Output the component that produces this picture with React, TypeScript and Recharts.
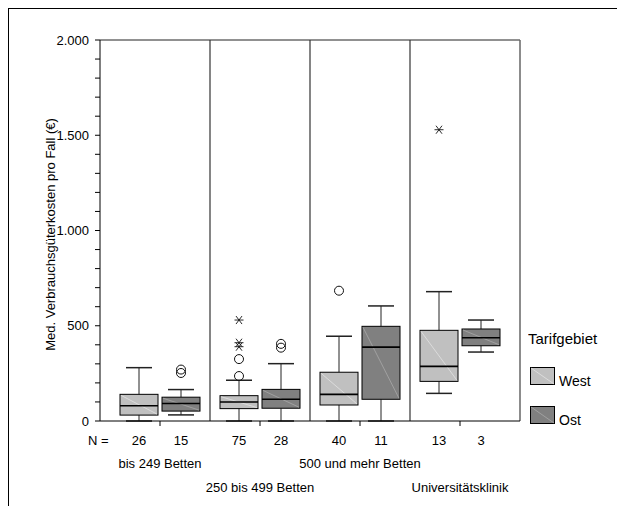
import { Bar, ComposedChart, Legend, ReferenceLine, XAxis, YAxis } from "recharts"

const groups = ["bis 249 Betten", "250 bis 499 Betten", "500 und mehr Betten", "Universitätsklinik"]
const legendOrder = ["West", "Ost"]
const westN = [26, 75, 40, 13]
const ostN = [15, 28, 11, 3]

// box plot stats
const westLow = [0, 0, 0, 145]
const westQ1 = [31, 65, 84, 208]
const westMedian = [80, 100, 140, 287]
const westQ3 = [140, 133, 256, 476]
const westHigh = [280, 214, 445, 679]
const westCircles = [[], [236, 325], [684], []]
const westStars = [[], [390, 411, 530], [], [1529]]

const ostLow = [32, 0, 0, 362]
const ostQ1 = [52, 67, 114, 395]
const ostMedian = [92, 114, 388, 437]
const ostQ3 = [125, 166, 497, 483]
const ostHigh = [165, 301, 604, 530]
const ostCircles = [[252, 270], [385, 405], [], []]
const ostStars = [[], [], [], []]

const yTicks = [0, 100, 200, 300, 400, 500, 600, 700, 800, 900, 1000, 1100, 1200, 1300, 1400, 1500, 1600, 1700, 1800, 1900, 2000]
const groupTicks = [0, 1, 2, 3]
const separators = [0.5, 1.5, 2.5]

const FONT = "'Liberation Sans', Arial, sans-serif"
const WEST = "#c0c0c0"
const OST = "#808080"

type Stats = {
  low: number
  q1: number
  median: number
  q3: number
  high: number
  circles: number[]
  stars: number[]
}

const rows = groups.map((group, i) => ({
  idx: i,
  group,
  west: {
    low: westLow[i],
    q1: westQ1[i],
    median: westMedian[i],
    q3: westQ3[i],
    high: westHigh[i],
    circles: westCircles[i],
    stars: westStars[i],
  } as Stats,
  ost: {
    low: ostLow[i],
    q1: ostQ1[i],
    median: ostMedian[i],
    q3: ostQ3[i],
    high: ostHigh[i],
    circles: ostCircles[i],
    stars: ostStars[i],
  } as Stats,
}))

const fmt = (v: number) => String(v).replace(/\B(?=(\d{3})+(?!\d))/g, ".")

function boxShape(side: "west" | "ost", fill: string, diag: string) {
  return (props: any) => {
    const { x, y, width, height, payload } = props
    const b: Stats = payload[side]
    // pixels per unit, taken from the bar the library laid out for [q1, q3]
    const unit = height / (b.q3 - b.q1)
    const py = (v: number) => y + (b.q3 - v) * unit
    const cx = x + width / 2
    const cap = 13
    return (
      <g>
        <line x1={cx} x2={cx} y1={py(b.high)} y2={y} stroke="#222" />
        <line x1={cx} x2={cx} y1={y + height} y2={py(b.low)} stroke="#222" />
        <line x1={cx - cap} x2={cx + cap} y1={py(b.high)} y2={py(b.high)} stroke="#222" strokeWidth={1.5} />
        <line x1={cx - cap} x2={cx + cap} y1={py(b.low)} y2={py(b.low)} stroke="#222" strokeWidth={1.5} />
        <rect x={x} y={y} width={width} height={height} fill={fill} stroke="#000" />
        <line x1={x + 1} y1={y + 1} x2={x + width - 1} y2={y + height - 1} stroke={diag} strokeWidth={0.8} />
        <line x1={x} x2={x + width} y1={py(b.median)} y2={py(b.median)} stroke="#000" strokeWidth={1.6} />
        {b.circles.map((v) => (
          <circle key={"c" + v} cx={cx} cy={py(v)} r={4.5} fill="none" stroke="#111" />
        ))}
        {b.stars.map((v) => (
          <g key={"s" + v} stroke="#111" strokeWidth={0.9}>
            <line x1={cx - 4.5} x2={cx + 4.5} y1={py(v)} y2={py(v)} />
            <line x1={cx - 3} x2={cx + 3} y1={py(v) - 4} y2={py(v) + 4} />
            <line x1={cx - 3} x2={cx + 3} y1={py(v) + 4} y2={py(v) - 4} />
          </g>
        ))}
      </g>
    )
  }
}

function GroupTick(props: any) {
  const { x, y, payload } = props
  const i = payload.value as number
  return (
    <g fontFamily={FONT} fontSize={13} fill="#000">
      {i === 0 && (
        <text x={x - 72} y={y + 19}>
          N =
        </text>
      )}
      <text x={x - 21} y={y + 19} textAnchor="middle">
        {westN[i]}
      </text>
      <text x={x + 21} y={y + 19} textAnchor="middle">
        {ostN[i]}
      </text>
      <text x={x} y={y + (i % 2 === 0 ? 42 : 66)} textAnchor="middle">
        {groups[i]}
      </text>
    </g>
  )
}

function YLabel(props: any) {
  const { viewBox } = props
  const x = viewBox.x + 46
  const y = viewBox.y + viewBox.height / 2 + 4
  return (
    <text
      x={x}
      y={y}
      transform={`rotate(-90, ${x}, ${y})`}
      textAnchor="middle"
      fontFamily={FONT}
      fontSize={13}
      fill="#000"
    >
      Med. Verbrauchsgüterkosten pro Fall (€)
    </text>
  )
}

function LegendBox(props: any) {
  const items = [...((props.payload ?? []) as any[])].sort(
    (a, b) => legendOrder.indexOf(a.value) - legendOrder.indexOf(b.value)
  )
  return (
    <svg width={90} height={110} fontFamily={FONT}>
      <text x={0} y={19} fontSize={15} fill="#000">
        Tarifgebiet
      </text>
      {items.map((it, k) => (
        <g key={it.value} transform={`translate(0, ${k * 39})`}>
          <rect x={2.5} y={42.5} width={24} height={17} fill={it.color} stroke="#000" />
          <line x1={3} y1={43} x2={26} y2={59} stroke={k === 0 ? "#e2e2e2" : "#a8a8a8"} strokeWidth={0.8} />
          <text x={31} y={61} fontSize={14} fill="#000">
            {it.value}
          </text>
        </g>
      ))}
    </svg>
  )
}

export default function App() {
  return (
    <div
      style={{
        width: 616,
        height: 497,
        borderLeft: "1px solid #000",
        borderTop: "1px solid #000",
        overflow: "hidden",
      }}
    >
      <ComposedChart
        width={616}
        height={497}
        data={rows}
        margin={{ top: 31, right: 105, bottom: 0, left: 0 }}
        barSize={38}
        barGap={4}
      >
        <XAxis
          dataKey="idx"
          type="number"
          domain={[-0.6, 3.6]}
          ticks={groupTicks}
          interval={0}
          height={85}
          tickSize={5}
          tickMargin={0}
          tick={<GroupTick />}
          axisLine={{ stroke: "#000" }}
          tickLine={{ stroke: "#000" }}
        />
        <YAxis
          type="number"
          domain={[0, 2000]}
          ticks={yTicks}
          interval={0}
          width={91}
          tickSize={5}
          tickMargin={6}
          tickFormatter={(v: number) => (v % 500 === 0 ? fmt(v) : "")}
          tick={{ fill: "#000", fontSize: 13, fontFamily: FONT }}
          axisLine={{ stroke: "#000" }}
          tickLine={{ stroke: "#000" }}
          label={<YLabel />}
        />
        <ReferenceLine y={2000} stroke="#222" />
        <ReferenceLine x={3.6} stroke="#666" strokeWidth={1.5} />
        {separators.map((s) => (
          <ReferenceLine key={s} x={s} stroke="#333" strokeWidth={1.2} />
        ))}
        <Bar
          name="West"
          dataKey={(d: any) => [d.west.q1, d.west.q3]}
          fill={WEST}
          shape={boxShape("west", WEST, "#e2e2e2")}
          isAnimationActive={false}
        />
        <Bar
          name="Ost"
          dataKey={(d: any) => [d.ost.q1, d.ost.q3]}
          fill={OST}
          shape={boxShape("ost", OST, "#a8a8a8")}
          isAnimationActive={false}
        />
        <Legend
          layout="horizontal"
          verticalAlign="middle"
          align="center"
          wrapperStyle={{ left: 519, top: 316, width: 90 }}
          content={<LegendBox />}
        />
      </ComposedChart>
    </div>
  )
}
